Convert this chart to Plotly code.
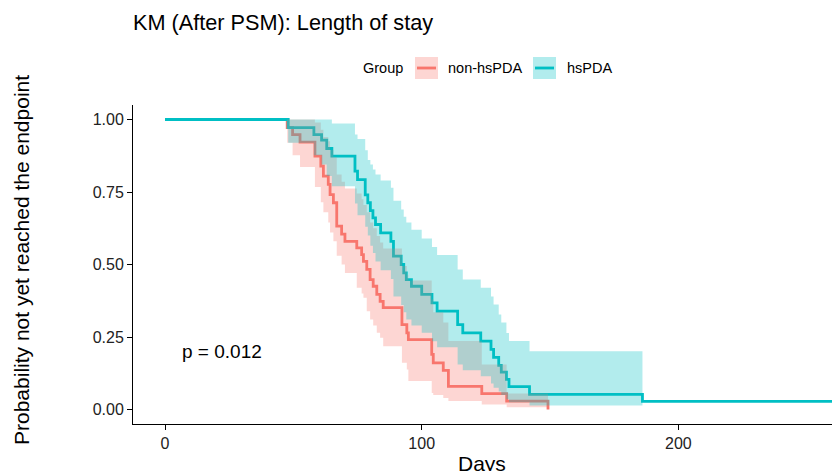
import plotly.graph_objects as go

# ---------------- data ----------------
# hsPDA group: event times (days), survival after each step, CI bounds
hs_time = [48, 58, 61, 63, 65, 74, 75, 78, 79, 80, 81, 82, 84, 88, 89, 92, 93, 94, 96, 100,
           104, 106, 114, 116, 123, 127, 128, 130, 131, 133, 134, 142, 186]
hs_surv = [0.972, 0.948, 0.929, 0.900, 0.874, 0.822, 0.793, 0.740, 0.713, 0.686, 0.661, 0.638,
           0.609, 0.580, 0.529, 0.500, 0.471, 0.448, 0.425, 0.397, 0.368, 0.339, 0.293, 0.264,
           0.236, 0.207, 0.180, 0.152, 0.129, 0.104, 0.079, 0.052, 0.028]
hs_upper = [1.0, 1.0, 1.0, 1.0, 0.986, 0.948, 0.933, 0.894, 0.86, 0.845, 0.828, 0.81, 0.79,
            0.765, 0.72, 0.69, 0.665, 0.645, 0.62, 0.59, 0.56, 0.533, 0.483, 0.448, 0.42, 0.39,
            0.362, 0.328, 0.30, 0.264, 0.236, 0.201, None]
hs_lower = [0.92, 0.877, 0.845, 0.805, 0.77, 0.71, 0.67, 0.63, 0.60, 0.565, 0.54, 0.51, 0.48,
            0.45, 0.39, 0.36, 0.335, 0.31, 0.29, 0.265, 0.235, 0.215, 0.155, 0.135, 0.115, 0.09,
            0.075, 0.062, 0.05, 0.035, 0.025, 0.014, None]
hs_followup_end = 270

# non-hsPDA group
non_time = [47.6, 49.7, 52.6, 58.4, 60.7, 61.7, 63.6, 64.3, 65.6, 66.9, 68.8, 70.1, 74.7, 76.6,
            77.3, 78.6, 79.9, 81.1, 82.5, 83.8, 85.0, 92.3, 94.2, 94.8, 103.9, 104.5, 108.4,
            110.4, 123.4, 133.1, 149.2]
non_surv = [0.972, 0.948, 0.922, 0.874, 0.839, 0.805, 0.776, 0.741, 0.713, 0.632, 0.605, 0.58,
            0.557, 0.534, 0.511, 0.483, 0.448, 0.425, 0.397, 0.373, 0.351, 0.293, 0.264, 0.241,
            0.19, 0.161, 0.135, 0.08, 0.055, 0.029, 0.0]
non_upper = [1.0, 1.0, 1.0, 0.99, 0.965, 0.94, 0.925, 0.895, 0.87, 0.81, 0.785, 0.762, 0.745,
             0.725, 0.705, 0.68, 0.645, 0.625, 0.598, 0.576, 0.555, 0.495, 0.465, 0.445, 0.38,
             0.335, 0.30, 0.236, 0.155, 0.055, None]
non_lower = [0.92, 0.877, 0.836, 0.767, 0.715, 0.68, 0.645, 0.61, 0.58, 0.53, 0.50, 0.471, 0.42,
             0.40, 0.385, 0.339, 0.31, 0.29, 0.265, 0.247, 0.218, 0.161, 0.138, 0.098, 0.057,
             0.05, 0.04, 0.029, 0.017, 0.008, None]

groups = ["non-hsPDA", "hsPDA"]
x_ticks = [0, 100, 200]
y_ticks = [0.0, 0.25, 0.50, 0.75, 1.0]
y_ticklabels = ["0.00", "0.25", "0.50", "0.75", "1.00"]
p_text = "p = 0.012"
p_pos = (6, 0.20)

RED = "#F8766D"
TEAL = "#00BFC4"
RED_FILL = "rgba(248,118,109,0.3)"
TEAL_FILL = "rgba(0,191,196,0.3)"
FONT = "Liberation Sans, Arial, sans-serif"


def band_xy(times, upper, lower):
    idx = [i for i, u in enumerate(upper) if u is not None]
    end_t = times[len(idx)] if len(idx) < len(times) else times[-1]
    xu, yu, xl, yl = [], [], [], []
    for k, i in enumerate(idx):
        tn = times[idx[k + 1]] if k + 1 < len(idx) else end_t
        xu += [times[i], tn]
        yu += [upper[i], upper[i]]
        xl += [times[i], tn]
        yl += [lower[i], lower[i]]
    return xu + xl[::-1] + [xu[0]], yu + yl[::-1] + [yu[0]]


fig = go.Figure()

# lines first (ribbons are drawn on top, as in ggsurvplot)
fig.add_trace(go.Scatter(x=[0] + non_time, y=[1.0] + non_surv, mode="lines",
                         line=dict(color=RED, width=2.8, shape="hv"), showlegend=False,
                         hoverinfo="skip"))
fig.add_trace(go.Scatter(x=[0] + hs_time + [hs_followup_end], y=[1.0] + hs_surv + [hs_surv[-1]],
                         mode="lines", line=dict(color=TEAL, width=2.8, shape="hv"),
                         showlegend=False, hoverinfo="skip"))

bx, by = band_xy(non_time, non_upper, non_lower)
fig.add_trace(go.Scatter(x=bx, y=by, mode="lines", fill="toself", fillcolor=RED_FILL,
                         line=dict(width=0, color=RED_FILL), showlegend=False, hoverinfo="skip"))
bx, by = band_xy(hs_time, hs_upper, hs_lower)
fig.add_trace(go.Scatter(x=bx, y=by, mode="lines", fill="toself", fillcolor=TEAL_FILL,
                         line=dict(width=0, color=TEAL_FILL), showlegend=False, hoverinfo="skip"))

# body margin is removed by the post script, so layout numbers are screen pixels
W, H = 832, 471
SCR_L, SCR_T, SCR_B, SCR_R = 133, 105, 424, 832
L = SCR_L
T = SCR_T
B = H - SCR_B
R = W - SCR_R
pw, ph = W - L - R, H - T - B


def px_to_paper(px, py):
    return (px - SCR_L) / pw, (SCR_B - py) / ph


annotations = []
shapes = []

# title
tx, ty = px_to_paper(131, 22)
annotations.append(dict(text="KM (After PSM): Length of stay", x=tx, y=ty, xref="paper",
                        yref="paper", xanchor="left", yanchor="middle", showarrow=False,
                        font=dict(size=21.7, color="black", family=FONT)))
# axis titles
ax_, ay_ = px_to_paper(482, 463)
annotations.append(dict(text="Days", x=ax_, y=ay_, xref="paper", yref="paper",
                        xanchor="center", yanchor="middle", showarrow=False,
                        font=dict(size=21, color="black", family=FONT)))
yx_, yy_ = px_to_paper(21, 260)
annotations.append(dict(text="Probability not yet reached the endpoint", x=yx_, y=yy_,
                        xref="paper", yref="paper", xanchor="center", yanchor="middle",
                        textangle=-90, showarrow=False,
                        font=dict(size=21, color="black", family=FONT)))
# p-value
annotations.append(dict(text=p_text, x=p_pos[0], y=p_pos[1], xref="x", yref="y",
                        xanchor="left", yanchor="middle", showarrow=False,
                        font=dict(size=19, color="black", family=FONT)))

# legend (drawn manually to mimic ggplot keys)
lg_y = 68
gx, gy = px_to_paper(361, lg_y)
annotations.append(dict(text="Group", x=gx, y=gy, xref="paper", yref="paper",
                        xanchor="left", yanchor="middle", showarrow=False,
                        font=dict(size=14.5, color="black", family=FONT)))
key_specs = [(415, RED, RED_FILL, groups[0], 446), (533, TEAL, TEAL_FILL, groups[1], 565)]
for kx, lc, fc, label, lx in key_specs:
    x0, y0 = px_to_paper(kx, lg_y + 11)
    x1, y1 = px_to_paper(kx + 23, lg_y - 11)
    shapes.append(dict(type="rect", xref="paper", yref="paper", x0=x0, y0=y0, x1=x1, y1=y1,
                       fillcolor=fc, line=dict(width=0)))
    mx0, my = px_to_paper(kx + 2, lg_y)
    mx1, _ = px_to_paper(kx + 21, lg_y)
    shapes.append(dict(type="line", xref="paper", yref="paper", x0=mx0, y0=my, x1=mx1, y1=my,
                       line=dict(color=lc, width=2.8)))
    tx_, ty_ = px_to_paper(lx, lg_y)
    annotations.append(dict(text=label, x=tx_, y=ty_, xref="paper", yref="paper",
                            xanchor="left", yanchor="middle", showarrow=False,
                            font=dict(size=14.5, color="black", family=FONT)))

x_lo = -12.47
x_hi = (SCR_R - 165) / 2.567

fig.update_layout(
    width=W, height=H,
    margin=dict(l=L, r=R, t=T, b=B, pad=0),
    paper_bgcolor="white", plot_bgcolor="white",
    showlegend=False,
    annotations=annotations, shapes=shapes,
    xaxis=dict(range=[x_lo, x_hi], tickvals=x_ticks, ticks="outside", ticklen=5, tickwidth=1,
               tickcolor="black", showline=True, linecolor="black", linewidth=1,
               showgrid=False, zeroline=False, tickfont=dict(size=16, color="#222222", family=FONT)),
    yaxis=dict(range=[-0.05, 1.05], tickvals=y_ticks, ticktext=y_ticklabels, ticks="outside",
               ticklen=5, tickwidth=1, tickcolor="black", showline=True, linecolor="black",
               linewidth=1, showgrid=False, zeroline=False,
               tickfont=dict(size=16, color="#222222", family=FONT)),
)

fig.write_html(
    "out.html",
    config={"displayModeBar": False},
    post_script="document.body.style.margin='0';document.body.style.overflow='hidden';",
)
